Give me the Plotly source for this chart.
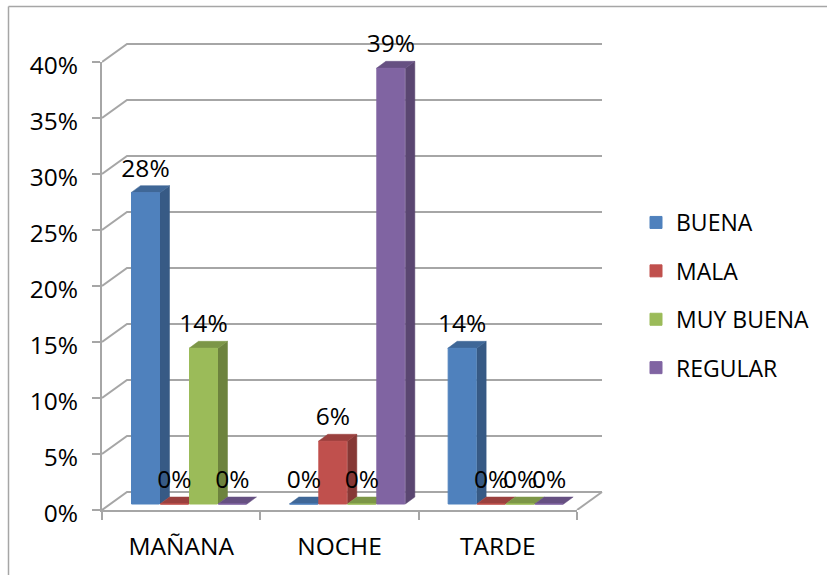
import plotly.graph_objects as go

# ---- data ----
categories = ["MAÑANA", "NOCHE", "TARDE"]
series_names = ["BUENA", "MALA", "MUY BUENA", "REGULAR"]
buena = [27.8, 0, 13.9]
mala = [0, 5.6, 0]
muy_buena = [13.9, 0, 0]
regular = [0, 38.9, 0]
data_labels = {
    "BUENA": ["28%", "0%", "14%"],
    "MALA": ["0%", "6%", "0%"],
    "MUY BUENA": ["14%", "0%", "0%"],
    "REGULAR": ["0%", "39%", "0%"],
}
y_ticks = [0, 5, 10, 15, 20, 25, 30, 35, 40]

# ---- style ----
W, H = 827, 575
L, R, T, B = 102, 577, 62, 510      # front axes box
PR, PT = 605, 41                    # outer drawing box including the back wall
KX = (R - L) / 3.0      # px per category
KY = (B - T) / 40.0     # px per percent
PW, PH = PR - L, B - PT
FONT = "Open Sans"
FS = 24.5
LEG_FS = 23
GRID = "#a6a6a6"
front = ["#4f81bd", "#c0504d", "#9bbb59", "#8064a2"]
side = ["#375a85", "#863835", "#6d833e", "#5a4671"]
top = ["#3f6797", "#9a403e", "#7c9647", "#665082"]
values = [buena, mala, muy_buena, regular]


def dx(px):
    return px / KX


def dy(px):
    return px / KY


def paper_x(px):
    return (px - L) / PW


def paper_y(px):
    return (B - px) / PH


WALL_X, WALL_Y = dx(25), dy(18)
FLOOR = dy(6)
BAR_W = dx(29)
BAR_START = dx(29)
DEPTH_X, DEPTH_Y = dx(9.5), dy(7)
LABEL_UP = dy(22)

fig = go.Figure()

# invisible trace so the front axes (x / y) are drawn
fig.add_trace(go.Scatter(x=[0, 3], y=[0, 40], mode="none", showlegend=False,
                         hoverinfo="skip", xaxis="x", yaxis="y"))


def poly(xs, ys, color):
    fig.add_trace(go.Scatter(x=xs, y=ys, mode="lines", fill="toself", fillcolor=color,
                             line=dict(color=color, width=0.5), showlegend=False,
                             hoverinfo="skip", xaxis="x2", yaxis="y2"))


# back wall gridlines with their diagonal return to the axis
for v in y_ticks:
    fig.add_trace(go.Scatter(x=[0, WALL_X, 3 + WALL_X], y=[v, v + WALL_Y, v + WALL_Y],
                             mode="lines", line=dict(color=GRID, width=2),
                             showlegend=False, hoverinfo="skip", xaxis="x2", yaxis="y2"))
# right floor edge
fig.add_trace(go.Scatter(x=[3, 3 + WALL_X], y=[0, WALL_Y], mode="lines",
                         line=dict(color=GRID, width=2), showlegend=False,
                         hoverinfo="skip", xaxis="x2", yaxis="y2"))

# top and side faces, left to right
for c in range(len(categories)):
    for s in range(len(series_names)):
        x0 = c + BAR_START + s * BAR_W
        x1 = x0 + BAR_W
        v = values[s][c]
        b = FLOOR
        t = FLOOR + v
        if v > 0:
            poly([x1, x1 + DEPTH_X, x1 + DEPTH_X, x1, x1],
                 [b, b + DEPTH_Y, t + DEPTH_Y, t, b], side[s])
        poly([x0, x0 + DEPTH_X, x1 + DEPTH_X, x1, x0],
             [t, t + DEPTH_Y, t + DEPTH_Y, t, t], top[s])

# front faces, on the overlay so they cover the faces behind
for s, name in enumerate(series_names):
    fig.add_trace(go.Bar(
        x=[c + BAR_START + (s + 0.5) * BAR_W for c in range(3)],
        y=values[s], base=FLOOR, width=BAR_W - dx(1), name=name,
        marker=dict(color=front[s], line=dict(color=front[s], width=1)),
        legendgroup=name, xaxis="x3", yaxis="y3", hoverinfo="skip"))

# data labels
for s, name in enumerate(series_names):
    fig.add_trace(go.Scatter(
        x=[c + BAR_START + (s + 0.5) * BAR_W for c in range(3)],
        y=[v + FLOOR + LABEL_UP for v in values[s]],
        text=data_labels[name], mode="text", textposition="middle center",
        textfont=dict(family=FONT, size=FS, color="#000000"),
        showlegend=False, hoverinfo="skip", cliponaxis=False, xaxis="x3", yaxis="y3"))

ext_x = dict(range=[0, dx(PW)], domain=[0, 1], visible=False, fixedrange=True)
ext_y = dict(range=[0, dy(PH)], domain=[0, 1], visible=False, fixedrange=True)

fig.update_layout(
    width=W, height=H, autosize=False,
    margin=dict(l=L, r=W - PR, t=PT, b=H - B, pad=0),
    paper_bgcolor="white", plot_bgcolor="rgba(0,0,0,0)",
    barmode="overlay",
    font=dict(family=FONT, size=FS, color="#000000"),
    xaxis=dict(range=[0, 3], domain=[0, (R - L) / PW], fixedrange=True,
               tickmode="array", tickvals=[0.5, 1.5, 2.5], ticktext=categories,
               ticks="outside", ticklen=14, tickcolor="rgba(0,0,0,0)", showgrid=False,
               zeroline=False, showline=True, linecolor=GRID, linewidth=2,
               minor=dict(tickmode="array", tickvals=[0, 1, 2, 3], ticks="outside",
                          ticklen=8, tickwidth=2, tickcolor=GRID, showgrid=False)),
    yaxis=dict(range=[0, 40], domain=[0, (B - T) / PH], tickmode="array", tickvals=y_ticks,
               ticktext=[f"{v}%" for v in y_ticks], ticks="outside", ticklen=8, tickwidth=2,
               tickcolor=GRID, showgrid=False, zeroline=False, showline=True,
               linecolor=GRID, linewidth=2, ticklabelstandoff=9, ticklabelshift=3,
               fixedrange=True),
    xaxis2=dict(**ext_x, anchor="y2"),
    yaxis2=dict(**ext_y, anchor="x2"),
    xaxis3=dict(**ext_x, anchor="y3", overlaying="x2"),
    yaxis3=dict(**ext_y, anchor="x3", overlaying="y2"),
    legend=dict(x=paper_x(636), xanchor="left", y=paper_y(201), yanchor="top",
                font=dict(family=FONT, size=LEG_FS), tracegroupgap=15.5,
                bgcolor="rgba(0,0,0,0)", borderwidth=0, itemclick=False, itemdoubleclick=False),
    shapes=[
        dict(type="line", xref="paper", yref="paper",
             x0=paper_x(8.5), x1=paper_x(8.5), y0=paper_y(6.5), y1=paper_y(575),
             line=dict(color=GRID, width=1.5)),
        dict(type="line", xref="paper", yref="paper",
             x0=paper_x(8.5), x1=paper_x(827), y0=paper_y(6.5), y1=paper_y(6.5),
             line=dict(color=GRID, width=1.5)),
    ],
)

fig.write_html("out.html", post_script="document.body.style.margin='0';",
               config=dict(displayModeBar=False))
